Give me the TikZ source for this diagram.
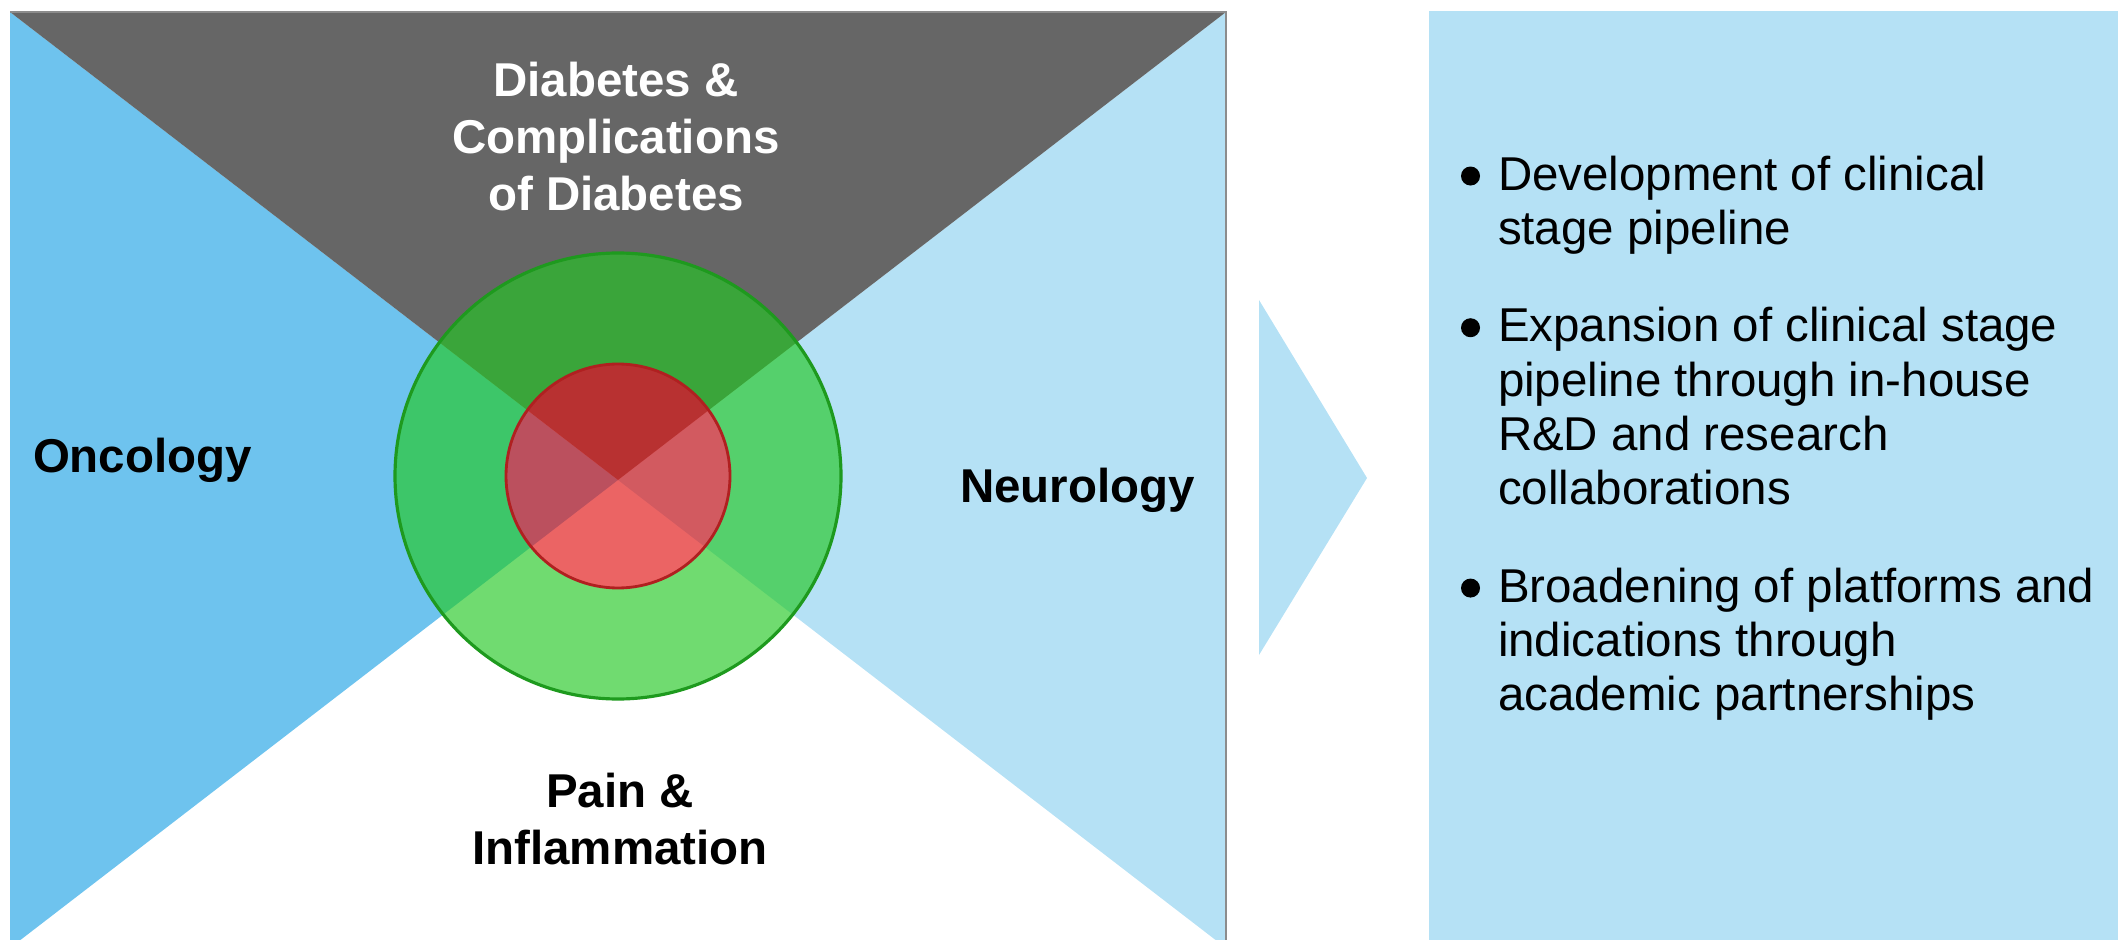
\documentclass[tikz,border=0pt]{standalone}
\usepackage{fontspec}
\setmainfont{Liberation Sans}
\usepackage{xcolor}
\usepackage{tikz}
\usetikzlibrary{positioning}

\definecolor{oncoblue}{HTML}{6EC3EE}
\definecolor{paleblue}{HTML}{B5E1F5}
\definecolor{diabgrey}{HTML}{666666}
\definecolor{ringgreen}{RGB}{35,200,35}
\definecolor{ringedge}{HTML}{1E9A1E}
\definecolor{corered}{RGB}{225,24,24}
\definecolor{coreedge}{HTML}{B02020}

\newcommand{\itemdot}{\tikz[baseline=0pt]\fill (0,0.14cm) circle (0.095cm);}

\begin{document}
\begin{tikzpicture}[x=0.01cm,y=-0.01cm,node distance=0pt,outer sep=0pt]

\useasboundingbox (0,0) rectangle (2118,940);

% Quadrants
\coordinate (mid) at (618,480);
\begin{scope}
\clip (0,0) rectangle (2118,940);
\fill[oncoblue] (10,12) -- (mid) -- (10,948) -- cycle;
\fill[paleblue] (1226,12) -- (mid) -- (1226,948) -- cycle;
\fill[diabgrey] (10,12) -- (1226,12) -- (mid) -- cycle;
\draw[black!45, line width=0.5pt] (10,12) -- (1226,12) -- (1226,948);
\end{scope}

% Ring and core
\coordinate (hub) at (618,476);
\fill[ringgreen, fill opacity=0.65, even odd rule] (hub) circle (223) (hub) circle (112);
\draw[ringedge, line width=0.9pt] (hub) circle (223);
\fill[corered, fill opacity=0.67] (hub) circle (112);
\draw[coreedge, line width=0.8pt] (hub) circle (112);

% Area labels
\node [font=\fontsize{13.5}{16.2}\selectfont\bfseries, inner sep=0pt, text=white, align=center, anchor=north] (diab) at (616,62) {Diabetes \&\\Complications\\of Diabetes};
\node [font=\fontsize{13.5}{16.2}\selectfont\bfseries, inner sep=0pt, align=center, anchor=north] (pain) at (620,773) {Pain \&\\Inflammation};
\node [font=\fontsize{13.5}{16.2}\selectfont\bfseries, inner sep=0pt, anchor=base west] (onco) at (33,473) {Oncology};
\node [font=\fontsize{13.5}{16.2}\selectfont\bfseries, inner sep=0pt, anchor=base west] (neuro) at (960,502) {Neurology};

% Arrow and box
\fill[paleblue] (1259,300) -- (1367,478) -- (1259,655) -- cycle;
\fill[paleblue] (1429,11) rectangle (2118,940);

% Bullets
\node [font=\fontsize{13.5}{15.45}\selectfont, inner sep=0pt, anchor=north west] (dev) at (1461,152) {\begin{tabular}{@{}l@{\hspace{0.18cm}}l@{}}\itemdot & Development of clinical\\ & stage pipeline\end{tabular}};
\node [font=\fontsize{13.5}{15.45}\selectfont, inner sep=0pt, below=0.43cm of dev.south west, anchor=north west] (exp) {\begin{tabular}{@{}l@{\hspace{0.18cm}}l@{}}\itemdot & Expansion of clinical stage\\ & pipeline through in-house\\ & R\&D and research\\ & collaborations\end{tabular}};
\node [font=\fontsize{13.5}{15.45}\selectfont, inner sep=0pt, below=0.43cm of exp.south west, anchor=north west] (broad) {\begin{tabular}{@{}l@{\hspace{0.18cm}}l@{}}\itemdot & Broadening of platforms and\\ & indications through\\ & academic partnerships\end{tabular}};

\end{tikzpicture}
\end{document}
